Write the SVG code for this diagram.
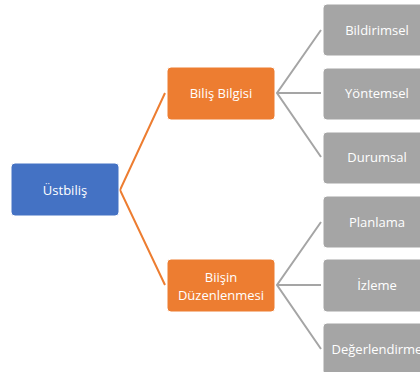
<svg xmlns="http://www.w3.org/2000/svg" width="420" height="372" viewBox="0 0 420 372">
<style>
.box{stroke:#fff;stroke-width:1}
.blue{fill:#4472C4}
.orange{fill:#ED7D31}
.gray{fill:#A5A5A5}
text{font-family:"Open Sans","Noto Sans",sans-serif;font-size:13px;fill:#fff;text-anchor:middle;dominant-baseline:central}
.co{stroke:#ED7D31;stroke-width:2;fill:none}
.cg{stroke:#A5A5A5;stroke-width:2;fill:none}
</style>
<rect width="420" height="372" fill="#fff"/>
<g id="connectors">
<polyline class="co" points="165,93 120,190 165,285"/>
<polyline class="cg" points="321,30 277,93 321,157"/>
<line class="cg" x1="277" y1="93" x2="321" y2="93"/>
<polyline class="cg" points="321,222 277,285 321,349"/>
<line class="cg" x1="277" y1="285" x2="321" y2="285"/>
</g>
<g id="ustbilis"><rect class="box blue" x="11" y="163" width="108" height="53" rx="4"/><text x="65" y="190">Üstbiliş</text></g>
<g id="bilis-bilgisi"><rect class="box orange" x="167" y="67" width="108" height="53" rx="4"/><text x="221" y="93">Biliş Bilgisi</text></g>
<g id="bisin-duzenlenmesi"><rect class="box orange" x="167" y="259" width="108" height="53" rx="4"/><text x="221" y="277">Biişin</text><text x="221" y="295">Düzenlenmesi</text></g>
<g id="bildirimsel"><rect class="box gray" x="323" y="4" width="108" height="52" rx="4"/><text x="377" y="30">Bildirimsel</text></g>
<g id="yontemsel"><rect class="box gray" x="323" y="68" width="108" height="52" rx="4"/><text x="377" y="93">Yöntemsel</text></g>
<g id="durumsal"><rect class="box gray" x="323" y="132" width="108" height="52" rx="4"/><text x="377" y="157">Durumsal</text></g>
<g id="planlama"><rect class="box gray" x="323" y="196" width="108" height="52" rx="4"/><text x="377" y="222">Planlama</text></g>
<g id="izleme"><rect class="box gray" x="323" y="259" width="108" height="53" rx="4"/><text x="377" y="285">İzleme</text></g>
<g id="degerlendirme"><rect class="box gray" x="323" y="323" width="108" height="52" rx="4"/><text x="377" y="349">Değerlendirme</text></g>
</svg>
